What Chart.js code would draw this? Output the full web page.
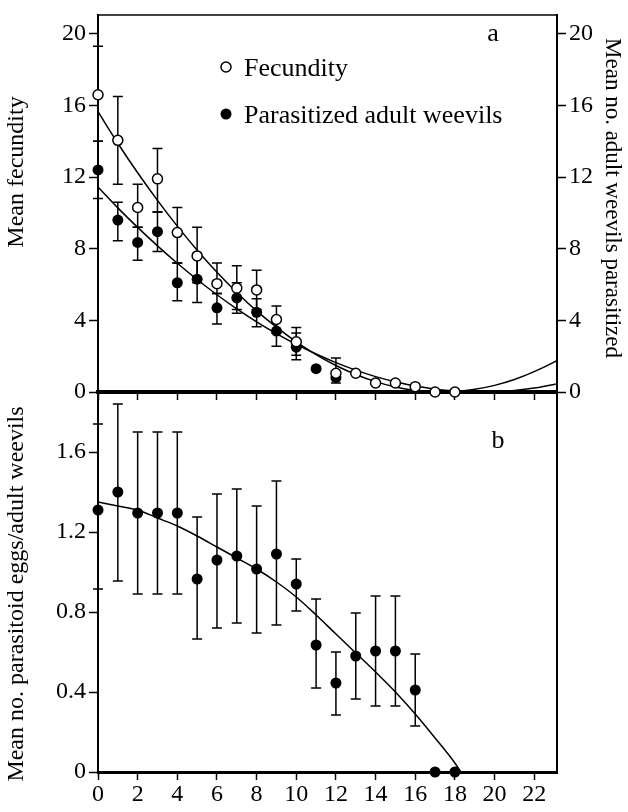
<!DOCTYPE html>
<html>
<head>
<meta charset="utf-8">
<script src="https://cdn.jsdelivr.net/npm/chart.js@4.4.0/dist/chart.umd.min.js"></script>
<style>
  html, body { margin: 0; padding: 0; background: #fff; }
  #wrap { position: relative; width: 628px; height: 812px; }
  #wrap canvas { position: absolute; left: 0; top: 0; }
</style>
</head>
<body>
<div id="wrap">
  <canvas id="topChart" width="628" height="812"></canvas>
  <canvas id="bottomChart" width="628" height="812"></canvas>
</div>
<script>
// age (days) of the points
const days = [0, 1, 2, 3, 4, 5, 6, 7, 8, 9, 10, 11, 12, 13, 14, 15, 16, 17, 18];

// panel a: fecundity (open circles) with error bar ends
const fecundity = [16.6, 14.05, 10.3, 11.9, 8.9, 7.6, 6.05, 5.8, 5.7, 4.05, 2.8, null, 1.05, 1.05, 0.5, 0.5, 0.3, 0, 0];
const fecUpper  = [19.3, 16.5, 11.6, 13.6, 10.3, 9.2, 7.2, 7.05, 6.8, 4.8, 3.6, null, 1.9, null, null, null, null, null, null];
const fecLower  = [14.0, 11.6, 9.2, 10.05, 7.2, 6.1, 5.5, 4.6, 4.6, 3.3, 2.05, null, 0.5, null, null, null, null, null, null];

// panel a: parasitized adult weevils (filled circles)
const parasitized = [12.4, 9.6, 8.35, 8.95, 6.1, 6.3, 4.7, 5.25, 4.45, 3.4, 2.5, 1.3, 0.8, null, null, null, null, null, null];
const parUpper    = [14.0, 10.6, 9.2, 10.05, 7.2, 7.6, 5.5, 6.1, 5.2, 4.1, 3.3, null, null, null, null, null, null, null, null];
const parLower    = [10.8, 8.45, 7.35, 7.85, 5.1, 5.0, 3.8, 4.4, 3.65, 2.55, 1.8, null, null, null, null, null, null, null, null];

// panel a: fitted curves
const curveX   = [0, 1, 2, 3, 4, 5, 6, 7, 8, 9, 10, 11, 12, 13, 14, 15, 16, 17, 18, 19, 20, 21, 22, 23, 23.2];
const fecCurve = [15.65, 13.89, 12.24, 10.7, 9.26, 7.92, 6.69, 5.56, 4.53, 3.62, 2.8, 2.09, 1.48, 0.98, 0.58, 0.28, 0.09, 0.01, 0.02, 0.15, 0.37, 0.7, 1.14, 1.67, 1.8];
const parCurve = [11.45, 10.28, 9.19, 8.16, 7.19, 6.28, 5.43, 4.64, 3.92, 3.26, 2.66, 2.12, 1.64, 1.22, 0.86, 0.57, 0.33, 0.16, 0.05, 0, 0.02, 0.09, 0.22, 0.42, 0.47];

// panel b: parasitoid eggs per adult weevil
const eggs      = [1.31, 1.40, 1.295, 1.295, 1.295, 0.965, 1.06, 1.08, 1.015, 1.09, 0.94, 0.635, 0.445, 0.58, 0.605, 0.605, 0.41, 0, 0];
const eggsUpper = [1.74, 1.84, 1.70, 1.70, 1.70, 1.275, 1.39, 1.415, 1.33, 1.455, 1.065, 0.865, 0.60, 0.795, 0.88, 0.88, 0.59, null, null];
const eggsLower = [0.915, 0.955, 0.89, 0.89, 0.89, 0.665, 0.72, 0.745, 0.695, 0.735, 0.805, 0.42, 0.285, 0.365, 0.33, 0.33, 0.23, null, null];

const eggsCurveX = [0, 1, 2, 3, 4, 5, 6, 7, 8, 9, 10, 11, 12, 13, 14, 15, 16, 17, 18, 18.3];
const eggsCurve  = [1.35, 1.33, 1.31, 1.27, 1.23, 1.18, 1.125, 1.07, 1.015, 0.95, 0.875, 0.785, 0.69, 0.595, 0.5, 0.4, 0.29, 0.17, 0.045, 0];

// tick labels
const xTicks = [0, 2, 4, 6, 8, 10, 12, 14, 16, 18, 20, 22];
const topTicks = [0, 4, 8, 12, 16, 20];
const bottomTicks = [0, 0.4, 0.8, 1.2, 1.6];

const SERIF = "'Liberation Serif', 'Times New Roman', serif";

function pts(xs, ys) {
    return xs.map((x, i) => ({ x: x, y: ys[i] })).filter(p => p.y !== null);
}

function setTicks(vals) {
    return scale => { scale.ticks = vals.map(v => ({ value: v })); };
}

// error bars, drawn under the markers
function errorBarPlugin(sets) {
    return {
        id: 'errorBars',
        beforeDatasetsDraw(chart) {
            const ctx = chart.ctx;
            const xs = chart.scales.x, ys = chart.scales.y;
            ctx.save();
            ctx.strokeStyle = '#000';
            ctx.lineWidth = 1.5;
            sets.forEach(s => {
                s.y.forEach((v, i) => {
                    if (v === null) return;
                    const up = s.up[i], lo = s.lo[i];
                    if (up === null && lo === null) return;
                    const px = xs.getPixelForValue(s.x[i]);
                    const pc = ys.getPixelForValue(v);
                    const pTop = up === null ? pc : ys.getPixelForValue(up);
                    const pBot = lo === null ? pc : ys.getPixelForValue(lo);
                    ctx.beginPath();
                    ctx.moveTo(px, pTop);
                    ctx.lineTo(px, pBot);
                    if (up !== null) { ctx.moveTo(px - 5, pTop); ctx.lineTo(px + 5, pTop); }
                    if (lo !== null) { ctx.moveTo(px - 5, pBot); ctx.lineTo(px + 5, pBot); }
                    ctx.stroke();
                });
            });
            ctx.restore();
        }
    };
}

function drawText(ctx, txt, x, y, rot, size) {
    ctx.save();
    ctx.translate(x, y);
    ctx.rotate(rot);
    ctx.font = size + 'px ' + SERIF;
    ctx.fillStyle = '#000';
    ctx.textAlign = 'center';
    ctx.textBaseline = 'middle';
    ctx.fillText(txt, 0, 0);
    ctx.restore();
}

const topDecor = {
    id: 'topDecor',
    afterDraw(chart) {
        const ctx = chart.ctx;
        const a = chart.chartArea;
        ctx.save();
        // top frame line
        ctx.strokeStyle = '#000';
        ctx.lineWidth = 1.5;
        ctx.beginPath();
        ctx.moveTo(a.left, a.top);
        ctx.lineTo(a.right, a.top);
        ctx.stroke();

        // legend
        ctx.lineWidth = 1.5;
        ctx.fillStyle = '#fff';
        ctx.beginPath();
        ctx.arc(226, 67, 5, 0, Math.PI * 2);
        ctx.fill();
        ctx.stroke();
        ctx.fillStyle = '#000';
        ctx.beginPath();
        ctx.arc(226, 114, 5.5, 0, Math.PI * 2);
        ctx.fill();
        ctx.font = '26px ' + SERIF;
        ctx.textAlign = 'left';
        ctx.textBaseline = 'middle';
        ctx.fillText('Fecundity', 244, 69);
        ctx.fillText('Parasitized adult weevils', 244, 116);
        ctx.restore();

        drawText(ctx, 'a', 493, 34, 0, 26);
        drawText(ctx, 'Mean fecundity', 17, 172, -Math.PI / 2, 24);
        drawText(ctx, 'Mean no. adult weevils parasitized', 612, 198, Math.PI / 2, 23);
    }
};

const bottomDecor = {
    id: 'bottomDecor',
    afterDraw(chart) {
        drawText(chart.ctx, 'b', 498, 441, 0, 26);
        drawText(chart.ctx, 'Mean no. parasitoid eggs/adult weevils', 17, 594, -Math.PI / 2, 24);
    }
};

function yAxis(pos, min, max, vals, width, fmt) {
    return {
        type: 'linear',
        position: pos,
        min: min,
        max: max,
        afterBuildTicks: setTicks(vals),
        afterFit: s => { s.width = width; },
        ticks: {
            color: '#000',
            padding: 3,
            font: { family: SERIF, size: 24, lineHeight: 1 },
            callback: fmt || (v => String(v))
        },
        grid: { drawOnChartArea: false, drawTicks: true, tickLength: 9, tickWidth: 1.5, tickColor: '#000' },
        border: { display: true, color: '#000', width: 2 }
    };
}

const openMarks = {
    type: 'scatter',
    data: pts(days, fecundity),
    pointRadius: 5,
    pointBorderWidth: 1.5,
    pointBackgroundColor: '#fff',
    pointBorderColor: '#000',
    clip: false,
    order: 0
};

const filledMarks = {
    type: 'scatter',
    data: pts(days, parasitized),
    pointRadius: 5.5,
    pointBorderWidth: 0,
    pointBackgroundColor: '#000',
    pointBorderColor: '#000',
    clip: false,
    order: 0
};

function curve(xs, ys) {
    return {
        type: 'scatter',
        data: pts(xs, ys),
        showLine: true,
        borderColor: '#000',
        borderWidth: 1.5,
        pointRadius: 0,
        cubicInterpolationMode: 'monotone',
        order: 2
    };
}

new Chart(document.getElementById('topChart'), {
    type: 'scatter',
    data: {
        datasets: [
            openMarks,
            filledMarks,
            curve(curveX, fecCurve),
            curve(curveX, parCurve)
        ]
    },
    options: {
        responsive: false,
        animation: false,
        events: [],
        layout: { padding: { top: 13, left: 0, right: 0, bottom: 392 } },
        plugins: { legend: { display: false }, tooltip: { enabled: false } },
        scales: {
            x: {
                type: 'linear',
                min: 0,
                max: 23.15,
                afterBuildTicks: setTicks(xTicks),
                afterFit: s => { s.height = 28; },
                ticks: { display: false },
                grid: { drawOnChartArea: false, drawTicks: true, tickLength: 8, tickWidth: 1.5, tickColor: '#000' },
                border: { display: true, color: '#000', width: 4 }
            },
            y: yAxis('left', 0, 21.05, topTicks, 98),
            y2: yAxis('right', 0, 21.05, topTicks, 71)
        }
    },
    plugins: [
        errorBarPlugin([
            { x: days, y: fecundity, up: fecUpper, lo: fecLower },
            { x: days, y: parasitized, up: parUpper, lo: parLower }
        ]),
        topDecor
    ]
});

new Chart(document.getElementById('bottomChart'), {
    type: 'scatter',
    data: {
        datasets: [
            {
                type: 'scatter',
                data: pts(days, eggs),
                pointRadius: 5.5,
                pointBorderWidth: 0,
                pointBackgroundColor: '#000',
                clip: false,
                order: 0
            },
            curve(eggsCurveX, eggsCurve)
        ]
    },
    options: {
        responsive: false,
        animation: false,
        events: [],
        layout: { padding: { top: 392, left: 0, right: 0, bottom: 0 } },
        plugins: { legend: { display: false }, tooltip: { enabled: false } },
        scales: {
            x: {
                type: 'linear',
                min: 0,
                max: 23.15,
                afterBuildTicks: setTicks(xTicks),
                afterFit: s => { s.height = 40; },
                ticks: { color: '#000', padding: 3, maxRotation: 0, autoSkip: false, font: { family: SERIF, size: 24, lineHeight: 1 } },
                grid: { drawOnChartArea: false, drawTicks: true, tickLength: 8, tickWidth: 1.5, tickColor: '#000' },
                border: { display: true, color: '#000', width: 3 }
            },
            y: yAxis('left', 0, 1.9, bottomTicks, 98, v => v === 0 ? '0' : v.toFixed(1)),
            y2: {
                type: 'linear',
                position: 'right',
                min: 0,
                max: 1.9,
                afterFit: s => { s.width = 71; },
                ticks: { display: false },
                grid: { drawOnChartArea: false, drawTicks: false },
                border: { display: true, color: '#000', width: 2 }
            }
        }
    },
    plugins: [
        errorBarPlugin([{ x: days, y: eggs, up: eggsUpper, lo: eggsLower }]),
        bottomDecor
    ]
});
</script>
</body>
</html>
